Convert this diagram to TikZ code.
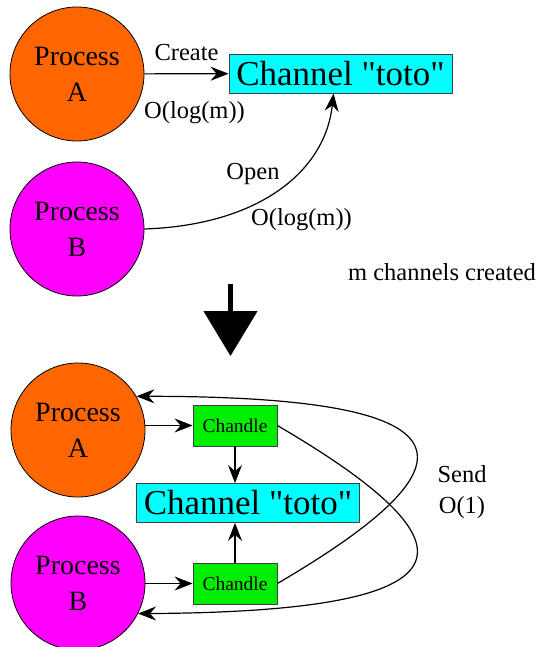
\documentclass[tikz,border=0pt]{standalone}
\usepackage{fontspec}
\setmainfont{Liberation Serif}
\usepackage{tikz}
\usetikzlibrary{calc}
\usetikzlibrary{arrows.meta}
\definecolor{proc-orange}{RGB}{255, 102, 0}
\definecolor{proc-magenta}{RGB}{255, 0, 255}
\definecolor{chan-cyan}{RGB}{0, 255, 255}
\definecolor{hdl-green}{RGB}{0, 238, 0}

\tikzset{
  proc/.style={circle, draw, line width=0.8pt, minimum size=134pt, inner sep=0pt,
    align=center, font=\fontsize{28}{36}\selectfont},
  chan/.style={draw=black!75, line width=0.8pt, fill=chan-cyan, minimum width=223pt,
    minimum height=39pt, inner sep=0pt, font=\fontsize{35}{40}\selectfont},
  hdl/.style={draw=black!75, line width=0.8pt, fill=hdl-green, minimum width=84pt,
    minimum height=41pt, inner sep=0pt, font=\fontsize{19.5}{22}\selectfont},
  lbl/.style={font=\fontsize{24.5}{31}\selectfont, align=center},
  link/.style={line width=1.2pt, -{Stealth[length=18pt, width=14pt, inset=6pt]}},
}

\begin{document}
\begin{tikzpicture}[x=1pt, y=-1pt]
  \useasboundingbox (0,0) rectangle (539,647);

  \node[proc, fill=proc-orange] (pA) at (77,74) {Process\\A};
  \node[proc, fill=proc-magenta] (pB) at (77,229) {Process\\B};
  \node[chan] (chan) at (340.5,73.5) {Channel \textquotedbl toto\textquotedbl};
  \draw[link] (pA) -- node[lbl, above=9pt] (create) {Create}
    node[lbl, below=24pt, xshift=8pt] (costA) {O(log(m))} (chan);
  \draw[link] (pB.east) .. controls +(116,-4) and +(-8,77) .. ([xshift=-7pt]chan.south)
    node[lbl, pos=0.5, anchor=south east, xshift=4pt] (open) {Open}
    node[lbl, pos=0.35, anchor=north west, yshift=3pt] (costB) {O(log(m))};
  \node[lbl] (mch) at (442,272) {m channels created};

  \coordinate (dn-top) at (230.5,284);
  \coordinate (dn-tip) at (230.5,356);
  \draw[line width=5pt, -{Triangle[length=45pt, width=53pt]}] (dn-top) -- (dn-tip);

  \node[proc, fill=proc-orange] (pA2) at (78,430) {Process\\A};
  \node[proc, fill=proc-magenta] (pB2) at (78,583) {Process\\B};
  \node[hdl] (hA) at (235,425.5) {Chandle};
  \node[hdl] (hB) at (235,583.5) {Chandle};
  \node[chan] (chan2) at (248,503) {Channel \textquotedbl toto\textquotedbl};
  \draw[link] (hA.west -| pA2.east) -- (hA.west);
  \draw[link] (hB.west -| pB2.east) -- (hB.west);
  \draw[link] (hA.south) -- (hA.south |- chan2.north);
  \draw[link] (hB.north) -- (hB.north |- chan2.south);
  \draw[link] (hB.east) .. controls +(210,-123) and +(338,0) .. (pA2.30);
  \draw[link] (hA.east) .. controls +(210,123) and +(336,-2) .. (pB2.-27);
  \node[lbl] (send) at (462,492) {Send\\O(1)};
\end{tikzpicture}
\end{document}
